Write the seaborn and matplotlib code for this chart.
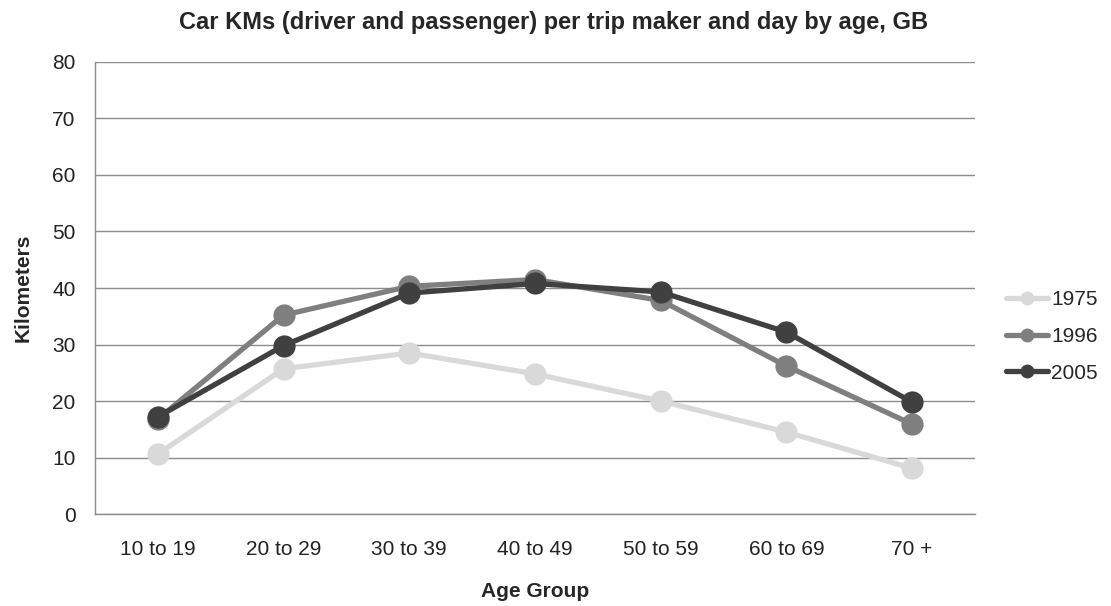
import matplotlib
matplotlib.use("Agg")
import matplotlib.pyplot as plt
from matplotlib import font_manager
import seaborn as sns
import pandas as pd

categories = ["10 to 19", "20 to 29", "30 to 39", "40 to 49", "50 to 59", "60 to 69", "70 +"]
years = ["1975", "1996", "2005"]
v1975 = [10.6, 25.7, 28.5, 24.8, 20.0, 14.5, 8.1]
v1996 = [16.8, 35.2, 40.3, 41.5, 37.8, 26.2, 15.9]
v2005 = [17.2, 29.8, 39.1, 40.8, 39.3, 32.2, 19.8]
colors = ["#d9d9d9", "#7f7f7f", "#404040"]

rows = []
for y, vals in zip(years, [v1975, v1996, v2005]):
    for c, v in zip(categories, vals):
        rows.append({"Age Group": c, "Kilometers": v, "Year": y})
df = pd.DataFrame(rows)

sns.set_style("white")
names = {f.name for f in font_manager.fontManager.ttflist}
fam = "Liberation Sans Narrow" if "Liberation Sans Narrow" in names else "Liberation Sans"
plt.rcParams["font.family"] = [fam, "DejaVu Sans"]

fig = plt.figure(figsize=(11.11, 6.06), dpi=100)
ax = fig.add_axes([0.0855, 0.1518, 0.792, 0.7459])

sns.lineplot(data=df, x="Age Group", y="Kilometers", hue="Year",
             palette=dict(zip(years, colors)), marker="o", markersize=16,
             markeredgewidth=0, linewidth=3.8, sort=False, ax=ax, legend=False)

ax.set_xlim(-0.5, len(categories) - 0.5)
ax.set_ylim(0, 80)
ax.set_yticks(range(0, 81, 10))
ax.yaxis.grid(True, color="#8c8c8c", linewidth=1)
ax.set_axisbelow(True)
for s in ["top", "right"]:
    ax.spines[s].set_visible(False)
for s in ["left", "bottom"]:
    ax.spines[s].set_color("#8c8c8c")
    ax.spines[s].set_linewidth(1)

ax.set_xticks(range(len(categories)))
ax.set_xticklabels(categories)
ax.tick_params(axis="x", length=0, pad=19, labelsize=15, colors="#222222")
ax.set_xticks([i - 0.5 for i in range(len(categories) + 1)], minor=True)
ax.tick_params(axis="x", which="minor", length=6, color="#8c8c8c", direction="out")
ax.tick_params(axis="y", length=6, color="#8c8c8c", direction="out", labelsize=15, colors="#222222", pad=8)
for lab in ax.get_yticklabels():
    lab.set_color("#222222")

ax.set_xlabel("Age Group", fontsize=15, fontweight="bold", labelpad=16)
ax.set_ylabel("Kilometers", fontsize=15, fontweight="bold", labelpad=14)
fig.text(0.4985, 0.963, "Car KMs (driver and passenger) per trip maker and day by age, GB",
         ha="center", va="center", fontsize=17, fontweight="bold")

from matplotlib.lines import Line2D
handles = [Line2D([0], [0], color=c, linewidth=3.8, marker="o", markersize=10, markeredgewidth=0) for c in colors]
fig.legend(handles, years, loc="center left", bbox_to_anchor=(0.889, 0.445), frameon=False,
           fontsize=15, handlelength=2.0, labelspacing=0.85, handletextpad=0.15)

fig.savefig("out.png", dpi=100)
